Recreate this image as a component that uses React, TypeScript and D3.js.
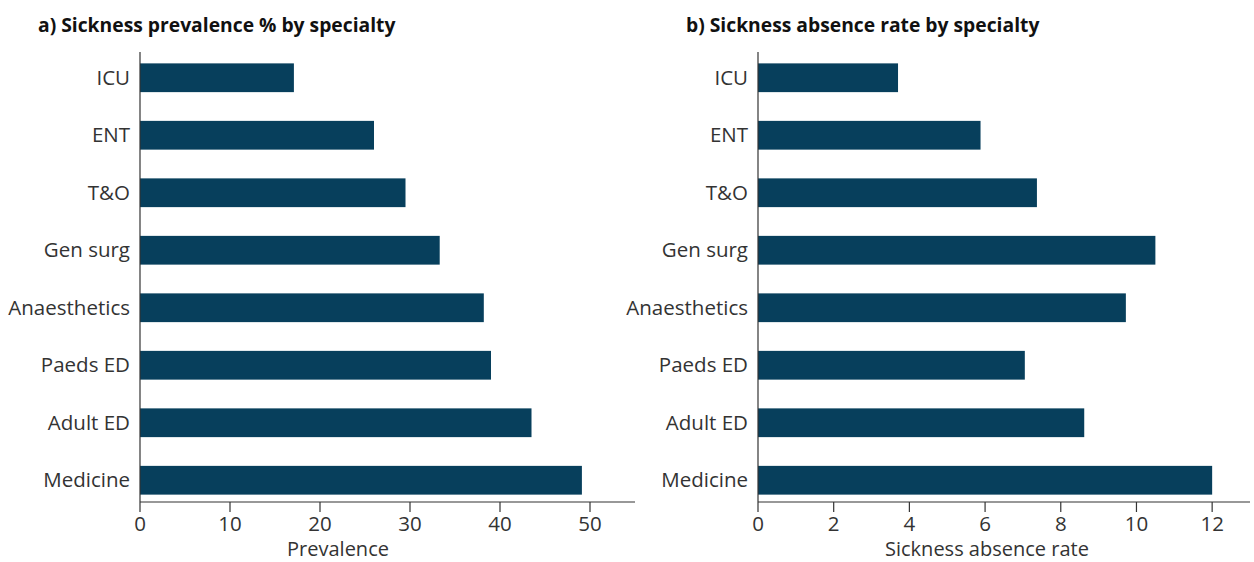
import React from 'react';
import * as d3 from 'd3';

const specialties = ['ICU', 'ENT', 'T&O', 'Gen surg', 'Anaesthetics', 'Paeds ED', 'Adult ED', 'Medicine'];
const prevalence = [17.1, 26.0, 29.5, 33.3, 38.2, 39.0, 43.5, 49.1];
const absenceRate = [3.7, 5.88, 7.37, 10.5, 9.72, 7.05, 8.62, 12.0];
const prevalenceTicks = [0, 10, 20, 30, 40, 50];
const absenceTicks = [0, 2, 4, 6, 8, 10, 12];

const BAR = '#073f5c';
const INK = '#333333';
const FONT = "'Open Sans', sans-serif";

const y = d3.scaleBand<string>()
  .domain(specialties)
  .range([49, 509])
  .paddingInner(0.5)
  .paddingOuter(0.25);

const axisY = 502;

function Panel({ title, titleX, values, ticks, x0, x1, max, label, labelAt }) {
  const x = d3.scaleLinear().domain([0, max]).range([x0, x1]);
  return (
    <g>
      <text x={titleX} y={32} fontSize={19.3} fontWeight={700} fill="#111" fontFamily={FONT}>{title}</text>
      {specialties.map((s, i) => (
        <g key={s}>
          <rect x={x(0)} y={y(s)} width={x(values[i]) - x(0)} height={y.bandwidth()} fill={BAR} />
          <text x={x0 - 10} y={y(s)! + y.bandwidth() / 2} dy="0.35em" textAnchor="end"
            fontSize={20.5} fill={INK} fontFamily={FONT}>{s}</text>
        </g>
      ))}
      <line x1={x0} x2={x0} y1={52} y2={axisY} stroke={INK} strokeWidth={1.2} />
      <line x1={x0} x2={x1} y1={axisY} y2={axisY} stroke={INK} strokeWidth={1.2} />
      {ticks.map(t => (
        <g key={t}>
          <line x1={x(t)} x2={x(t)} y1={axisY} y2={axisY + 10} stroke={INK} strokeWidth={1.2} />
          <text x={x(t)} y={axisY + 22} dy="0.35em" textAnchor="middle" fontSize={20.5} fill={INK} fontFamily={FONT}>{t}</text>
        </g>
      ))}
      <text x={x(labelAt)} y={549} dy="0.35em" textAnchor="middle" fontSize={20} fill={INK} fontFamily={FONT}>{label}</text>
    </g>
  );
}

export default function App() {
  return (
    <svg width={1254} height={562} style={{ position: 'absolute', left: 0, top: 0, background: '#fff' }}>
      <Panel title="a) Sickness prevalence % by specialty" titleX={38} values={prevalence}
        ticks={prevalenceTicks} x0={140} x1={635} max={55} label="Prevalence" labelAt={22} />
      <Panel title="b) Sickness absence rate by specialty" titleX={686} values={absenceRate}
        ticks={absenceTicks} x0={758} x1={1250} max={13} label="Sickness absence rate" labelAt={6.05} />
    </svg>
  );
}
